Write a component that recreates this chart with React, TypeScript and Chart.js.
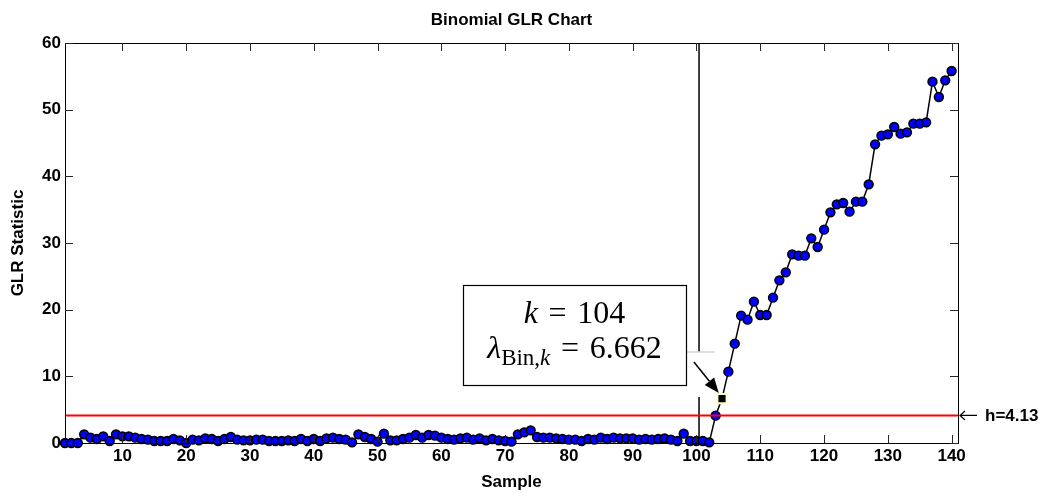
import { useEffect, useRef } from 'react';
import { Chart, registerables } from 'chart.js';
Chart.register(...registerables);

// GLR statistic per sample (samples 1..140)
const glrValues: number[] = [
  0.0, 0.0, 0.0, 1.3, 0.8, 0.6, 1.0, 0.3, 1.3, 1.0,
  1.0, 0.8, 0.6, 0.5, 0.3, 0.3, 0.3, 0.6, 0.4, 0.0,
  0.5, 0.4, 0.7, 0.6, 0.3, 0.6, 0.9, 0.5, 0.4, 0.4,
  0.5, 0.5, 0.3, 0.3, 0.3, 0.4, 0.3, 0.6, 0.3, 0.6,
  0.3, 0.7, 0.8, 0.6, 0.5, 0.1, 1.3, 0.9, 0.6, 0.2,
  1.4, 0.4, 0.4, 0.6, 0.8, 1.2, 0.8, 1.2, 1.1, 0.8,
  0.6, 0.5, 0.7, 0.8, 0.5, 0.7, 0.4, 0.6, 0.4, 0.3,
  0.2, 1.3, 1.6, 1.9, 0.9, 0.8, 0.8, 0.7, 0.6, 0.5,
  0.5, 0.3, 0.6, 0.5, 0.8, 0.6, 0.8, 0.7, 0.7, 0.7,
  0.5, 0.6, 0.5, 0.6, 0.7, 0.5, 0.3, 1.4, 0.3, 0.3,
  0.3, 0.1, 4.1, 6.662, 10.7, 14.9, 19.1, 18.5, 21.2, 19.2,
  19.2, 21.8, 24.4, 25.6, 28.3, 28.1, 28.1, 30.7, 29.4, 32.0,
  34.6, 35.8, 36.0, 34.7, 36.2, 36.2, 38.8, 44.8, 46.1, 46.3,
  47.4, 46.4, 46.6, 47.9, 47.9, 48.1, 54.2, 51.9, 54.4, 55.8,
];
const sampleNumbers: number[] = glrValues.map((_, i) => i + 1);

const xTickValues = [10, 20, 30, 40, 50, 60, 70, 80, 90, 100, 110, 120, 130, 140];
const yTickValues = [0, 10, 20, 30, 40, 50, 60];
const xRange = [1, 141];
const yRange = [0, 60];

const chartTitle = 'Binomial GLR Chart';
const threshold = 4.13;
const thresholdLabel = 'h=4.13';
const detectionSample = 104;
const detectionText1 = ['k', ' = 104'];
const detectionText2 = ['λ', 'Bin,', 'k', ' = 6.662'];
const changePointSample = 100.4;

// annotation geometry in data units
const textBox = { x0: 63.4, x1: 98.35, y0: 23.7, y1: 8.7 };
const maskBox = { x0: 98.5, x1: 102.9, y0: 13.65, y1: 6.9 };
const arrow = { x0: 99.6, y0: 12.15, x1: 103.5, y1: 7.5 };

const SANS = "'Liberation Sans', Arial, sans-serif";
const SERIF = "'Liberation Serif', 'DejaVu Serif', serif";
const LABEL_SIZE = 17;

const framePlugin = {
  id: 'framePlugin',
  beforeDatasetsDraw(chart: any) {
    const { ctx, chartArea: a, scales } = chart;
    const x = scales.x, y = scales.y;
    ctx.save();
    // title centred over the axes
    ctx.fillStyle = '#000';
    ctx.font = `bold ${LABEL_SIZE}px ${SANS}`;
    ctx.textAlign = 'center';
    ctx.textBaseline = 'middle';
    ctx.fillText(chartTitle, (a.left + a.right) / 2, 20);
    // change-point vertical line
    const vx = x.getPixelForValue(changePointSample);
    ctx.strokeStyle = '#000';
    ctx.lineWidth = 1.5;
    ctx.beginPath();
    ctx.moveTo(vx, a.top);
    ctx.lineTo(vx, a.bottom);
    ctx.stroke();
    // white mask (text-arrow box)
    const mx0 = x.getPixelForValue(maskBox.x0), mx1 = x.getPixelForValue(maskBox.x1);
    const my0 = y.getPixelForValue(maskBox.y0), my1 = y.getPixelForValue(maskBox.y1);
    ctx.fillStyle = '#fff';
    ctx.fillRect(mx0, my0, mx1 - mx0, my1 - my0);
    ctx.strokeStyle = '#d4d4d4';
    ctx.lineWidth = 1.5;
    ctx.beginPath();
    ctx.moveTo(mx0, my0);
    ctx.lineTo(mx1, my0);
    ctx.stroke();
    // arrow
    const ax0 = x.getPixelForValue(arrow.x0), ay0 = y.getPixelForValue(arrow.y0);
    const ax1 = x.getPixelForValue(arrow.x1), ay1 = y.getPixelForValue(arrow.y1);
    const ang = Math.atan2(ay1 - ay0, ax1 - ax0);
    const hl = 15, hw = 6;
    const bx = ax1 - hl * Math.cos(ang), by = ay1 - hl * Math.sin(ang);
    ctx.strokeStyle = '#000';
    ctx.lineWidth = 1.5;
    ctx.beginPath();
    ctx.moveTo(ax0, ay0);
    ctx.lineTo(bx, by);
    ctx.stroke();
    ctx.fillStyle = '#000';
    ctx.beginPath();
    ctx.moveTo(ax1, ay1);
    ctx.lineTo(bx + hw * Math.sin(ang), by - hw * Math.cos(ang));
    ctx.lineTo(bx - hw * Math.sin(ang), by + hw * Math.cos(ang));
    ctx.closePath();
    ctx.fill();
    ctx.restore();
  },
  afterDatasetsDraw(chart: any) {
    const { ctx, chartArea: a, scales } = chart;
    const x = scales.x, y = scales.y;
    ctx.save();
    // frame
    ctx.strokeStyle = '#000';
    ctx.lineWidth = 1;
    ctx.strokeRect(Math.round(a.left) + 0.5, Math.round(a.top) + 0.5,
      Math.round(a.right - a.left), Math.round(a.bottom - a.top));
    // inward ticks
    const tl = 8;
    ctx.strokeStyle = '#262626';
    ctx.beginPath();
    xTickValues.forEach((v) => {
      const px = Math.round(x.getPixelForValue(v)) + 0.5;
      ctx.moveTo(px, a.bottom);
      ctx.lineTo(px, a.bottom - tl);
      ctx.moveTo(px, a.top);
      ctx.lineTo(px, a.top + tl);
    });
    yTickValues.forEach((v) => {
      const py = Math.round(y.getPixelForValue(v)) + 0.5;
      ctx.moveTo(a.left, py);
      ctx.lineTo(a.left + tl, py);
      ctx.moveTo(a.right, py);
      ctx.lineTo(a.right - tl, py);
    });
    ctx.stroke();

    // threshold label with arrow outside the axes
    const hy = y.getPixelForValue(threshold);
    ctx.strokeStyle = '#000';
    ctx.lineWidth = 1.2;
    ctx.beginPath();
    ctx.moveTo(a.right + 2, hy);
    ctx.lineTo(a.right + 19, hy);
    ctx.moveTo(a.right + 7, hy - 4.5);
    ctx.lineTo(a.right + 2, hy);
    ctx.lineTo(a.right + 7, hy + 4.5);
    ctx.stroke();
    ctx.fillStyle = '#000';
    ctx.font = `bold ${LABEL_SIZE}px ${SANS}`;
    ctx.textAlign = 'left';
    ctx.textBaseline = 'middle';
    ctx.fillText(thresholdLabel, a.right + 27, hy + 1);

    // text box
    const bx0 = x.getPixelForValue(textBox.x0), bx1 = x.getPixelForValue(textBox.x1);
    const by0 = y.getPixelForValue(textBox.y0), by1 = y.getPixelForValue(textBox.y1);
    ctx.fillStyle = '#fff';
    ctx.fillRect(bx0, by0, bx1 - bx0, by1 - by0);
    ctx.strokeStyle = '#000';
    ctx.lineWidth = 1.2;
    ctx.strokeRect(Math.round(bx0) + 0.5, Math.round(by0) + 0.5, Math.round(bx1 - bx0), Math.round(by1 - by0));
    const cx = (bx0 + bx1) / 2;
    const fs = 32;
    const it = `italic ${fs}px ${SERIF}`;
    const rm = `${fs}px ${SERIF}`;
    const subIt = `italic ${Math.round(fs * 0.72)}px ${SERIF}`;
    const subRm = `${Math.round(fs * 0.72)}px ${SERIF}`;
    ctx.textBaseline = 'alphabetic';
    ctx.textAlign = 'left';
    ctx.fillStyle = '#000';
    const sp = (t: string) => t.replace(' = ', '\u2004=\u2004');
    const seg1 = [
      { t: detectionText1[0], f: it, dy: 0 },
      { t: sp(detectionText1[1]), f: rm, dy: 0 },
    ];
    const seg2 = [
      { t: detectionText2[0], f: it, dy: 0 },
      { t: detectionText2[1], f: subRm, dy: 7 },
      { t: detectionText2[2], f: subIt, dy: 7 },
      { t: sp(detectionText2[3]), f: rm, dy: 0 },
    ];
    const drawLine = (segs: any[], base: number) => {
      let w = 0;
      segs.forEach((s) => { ctx.font = s.f; w += ctx.measureText(s.t).width; });
      let px = cx - w / 2;
      segs.forEach((s) => {
        ctx.font = s.f;
        ctx.fillText(s.t, px, base + s.dy);
        px += ctx.measureText(s.t).width;
      });
    };
    drawLine(seg1, by0 + 38);
    drawLine(seg2, by0 + 73);
    ctx.restore();
  },
};

export default function App() {
  const ref = useRef<HTMLCanvasElement | null>(null);
  useEffect(() => {
    const canvas = ref.current;
    if (!canvas) return;
    Chart.defaults.font.family = SANS;
    const points = sampleNumbers.map((s, i) => ({ x: s, y: glrValues[i] }));
    const isDet = (c: any) => c.raw && c.raw.x === detectionSample;
    const chart = new Chart(canvas, {
      type: 'line',
      data: {
        datasets: [
          {
            label: 'h',
            data: [
              { x: xRange[0], y: threshold },
              { x: xRange[1], y: threshold },
            ],
            borderColor: '#ff0000',
            borderWidth: 2,
            pointRadius: 0,
            fill: false,
            order: 0,
          },
          {
            label: 'GLR',
            data: points,
            borderColor: '#000',
            borderWidth: 1.5,
            fill: false,
            tension: 0,
            clip: false as any,
            order: 1,
            pointStyle: ((c: any) => (isDet(c) ? 'rect' : 'circle')) as any,
            pointRadius: ((c: any) => (isDet(c) ? 6.5 : 4.4)) as any,
            pointBackgroundColor: ((c: any) => (isDet(c) ? '#000' : '#0000ff')) as any,
            pointBorderColor: ((c: any) => (isDet(c) ? '#ffffc8' : '#000')) as any,
            pointBorderWidth: ((c: any) => (isDet(c) ? 2 : 1.6)) as any,
          },
        ],
      },
      options: {
        animation: false,
        responsive: false,
        devicePixelRatio: 1,
        layout: { padding: { left: 0, right: 90, top: 43, bottom: 0 } },
        plugins: {
          legend: { display: false },
          tooltip: { enabled: false },
          title: { display: false },
        },
        scales: {
          x: {
            type: 'linear',
            min: xRange[0],
            max: xRange[1],
            grid: { display: false, drawTicks: false },
            border: { display: false },
            afterBuildTicks: (s: any) => { s.ticks = xTickValues.map((v) => ({ value: v })); },
            afterFit: (s: any) => { s.height = 50; },
            ticks: {
              color: '#000',
              font: { size: LABEL_SIZE, weight: 'bold', family: SANS },
              padding: 3,
              maxRotation: 0,
              autoSkip: false,
            },
            title: {
              display: true,
              text: 'Sample',
              color: '#000',
              font: { size: LABEL_SIZE, weight: 'bold', family: SANS },
              padding: { top: 0, bottom: 0 },
            },
          },
          y: {
            type: 'linear',
            min: yRange[0],
            max: yRange[1],
            grid: { display: false, drawTicks: false },
            border: { display: false },
            afterBuildTicks: (s: any) => { s.ticks = yTickValues.map((v) => ({ value: v })); },
            afterFit: (s: any) => { s.width = 65; },
            ticks: {
              color: '#000',
              font: { size: LABEL_SIZE, weight: 'bold', family: SANS },
              padding: 4,
            },
            title: {
              display: true,
              text: 'GLR Statistic',
              color: '#000',
              font: { size: LABEL_SIZE, weight: 'bold', family: SANS },
              padding: { top: 8, bottom: 0 },
            },
          },
        },
      },
      plugins: [framePlugin],
    } as any);
    return () => chart.destroy();
  }, []);
  return (
    <div style={{ position: 'fixed', left: 0, top: 0, width: 1048, height: 493, background: '#fff' }}>
      <canvas ref={ref} width={1048} height={493} style={{ display: 'block' }} />
    </div>
  );
}
